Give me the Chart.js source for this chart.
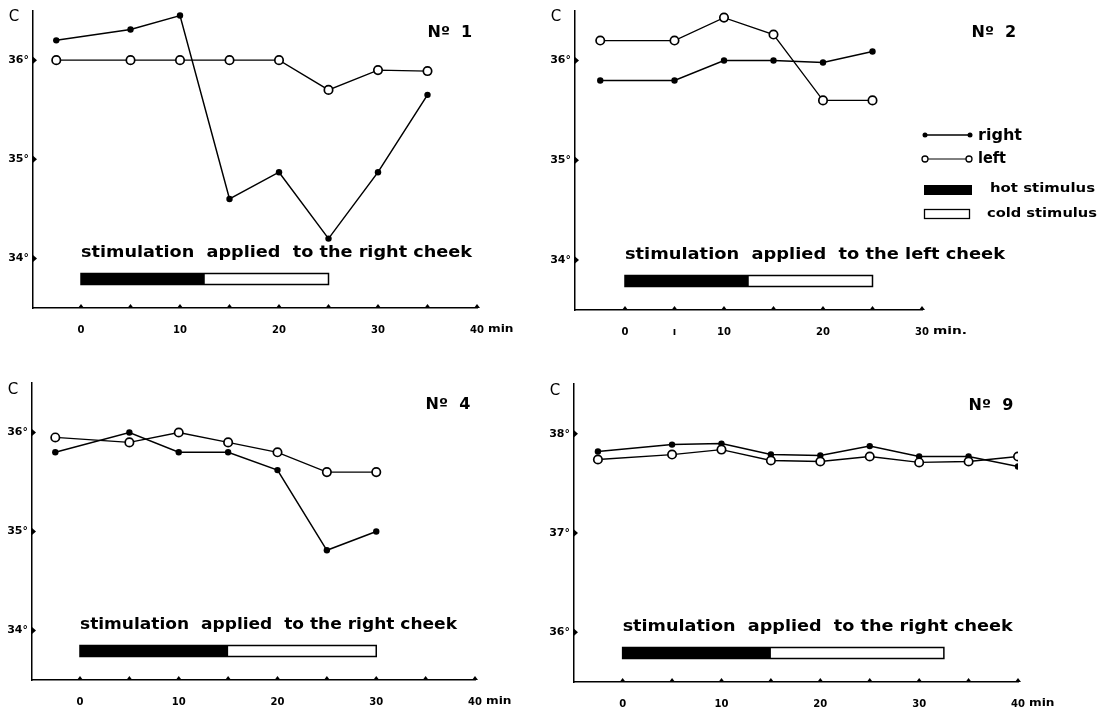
<!DOCTYPE html>
<html>
<head>
<meta charset="utf-8">
<script src="https://cdn.jsdelivr.net/npm/chart.js@4.4.1/dist/chart.umd.min.js"></script>
<style>
    html, body { margin: 0; padding: 0; background: #fff; }
    #wrap { position: relative; width: 1103px; height: 712px; }
    #wrap canvas { position: absolute; left: 0; top: 0; }
</style>
</head>
<body>
<div id="wrap">
    <canvas id="c1" width="1103" height="712"></canvas>
    <canvas id="c2" width="1103" height="712"></canvas>
    <canvas id="c4" width="1103" height="712"></canvas>
    <canvas id="c9" width="1103" height="712"></canvas>
</div>
<script>
        // ---- No 1 ----
        const times1 = [-2.5, 5, 10, 15, 20, 25, 30, 35];
        const right1 = [36.2, 36.31, 36.45, 34.6, 34.87, 34.2, 34.87, 35.65];
        const left1 = [36.0, 36.0, 36.0, 36.0, 36.0, 35.7, 35.9, 35.89];
        const xRange1 = [-4.85, 40];
        const yRange1 = [33.5, 36.5];
        const xTicks1 = [0, 10, 20, 30, 40];
        const xLabels1 = ['0', '10', '20', '30', '40'];
        const yTicks1 = [34, 35, 36];
        const yLabels1 = ['34°', '35°', '36°'];
        const stim1 = [0, 12.5, 25];

        // ---- No 2 ----
        const times2 = [-2.5, 5, 10, 15, 20, 25];
        const right2 = [35.8, 35.8, 36.0, 36.0, 35.98, 36.09];
        const left2 = [36.2, 36.2, 36.43, 36.26, 35.6, 35.6];
        const xRange2 = [-5.05, 30];
        const yRange2 = [33.5, 36.5];
        const xTicks2 = [0, 5, 10, 20, 30];
        const xLabels2 = ['0', 'ı', '10', '20', '30'];
        const yTicks2 = [34, 35, 36];
        const yLabels2 = ['34°', '35°', '36°'];
        const stim2 = [0, 12.5, 25];

        // ---- No 4 ----
        const times4 = [-2.5, 5, 10, 15, 20, 25, 30];
        const right4 = [35.8, 36.0, 35.8, 35.8, 35.62, 34.81, 35.0];
        const left4 = [35.95, 35.9, 36.0, 35.9, 35.8, 35.6, 35.6];
        const xRange4 = [-4.86, 40];
        const yRange4 = [33.5, 36.5];
        const xTicks4 = [0, 10, 20, 30, 40];
        const xLabels4 = ['0', '10', '20', '30', '40'];
        const yTicks4 = [34, 35, 36];
        const yLabels4 = ['34°', '35°', '36°'];
        const stim4 = [0, 15, 30];

        // ---- No 9 ----
        const times9 = [-2.5, 5, 10, 15, 20, 25, 30, 35, 40];
        const right9 = [37.82, 37.89, 37.9, 37.79, 37.78, 37.875, 37.77, 37.77, 37.67];
        const left9 = [37.74, 37.79, 37.84, 37.73, 37.72, 37.77, 37.71, 37.72, 37.77];
        const xRange9 = [-4.92, 40];
        const yRange9 = [35.5, 38.5];
        const xTicks9 = [0, 10, 20, 30, 40];
        const xLabels9 = ['0', '10', '20', '30', '40'];
        const yTicks9 = [36, 37, 38];
        const yLabels9 = ['36°', '37°', '38°'];
        const stim9 = [0, 15, 32.5];

        const xMarks = [0, 5, 10, 15, 20, 25, 30, 35, 40];
        const FONT = '"DejaVu Sans", sans-serif';

        const panels = [
            { id: 'c1', area: [33, 10, 477, 308], xRange: xRange1, yRange: yRange1, times: times1, right: right1, left: left1,
              xTicks: xTicks1, xLabels: xLabels1, yTicks: yTicks1, yLabels: yLabels1, stim: stim1, unit: 'min',
              title: 'Nº  1', note: 'stimulation  applied  to the right cheek', noteWidth: 391 },
            { id: 'c2', area: [575, 10, 922, 310], xRange: xRange2, yRange: yRange2, times: times2, right: right2, left: left2,
              xTicks: xTicks2, xLabels: xLabels2, yTicks: yTicks2, yLabels: yLabels2, stim: stim2, unit: 'min.',
              title: 'Nº  2', note: 'stimulation  applied  to the left cheek', noteWidth: 380, legend: true },
            { id: 'c4', area: [32, 383, 475, 680], xRange: xRange4, yRange: yRange4, times: times4, right: right4, left: left4,
              xTicks: xTicks4, xLabels: xLabels4, yTicks: yTicks4, yLabels: yLabels4, stim: stim4, unit: 'min',
              title: 'Nº  4', note: 'stimulation  applied  to the right cheek', noteWidth: 377 },
            { id: 'c9', area: [574, 384, 1018, 682], xRange: xRange9, yRange: yRange9, times: times9, right: right9, left: left9,
              xTicks: xTicks9, xLabels: xLabels9, yTicks: yTicks9, yLabels: yLabels9, stim: stim9, unit: 'min',
              title: 'Nº  9', note: 'stimulation  applied  to the right cheek', noteWidth: 390 }
        ];

        // hand lettering is wider than the font, so stretch text to a width
        function stretchText(ctx, text, x, y, width) {
            const w = ctx.measureText(text).width;
            ctx.save();
            ctx.translate(x, y);
            ctx.scale(width / w, 1);
            ctx.fillText(text, 0, 0);
            ctx.restore();
        }

        function drawLegend(ctx) {
            ctx.lineWidth = 1.5;
            // right
            ctx.beginPath(); ctx.moveTo(925, 135); ctx.lineTo(970, 135); ctx.stroke();
            [925, 970].forEach(x => { ctx.beginPath(); ctx.arc(x, 135, 2.5, 0, Math.PI * 2); ctx.fill(); });
            // left
            ctx.lineWidth = 1;
            ctx.beginPath(); ctx.moveTo(928, 159); ctx.lineTo(966, 159); ctx.stroke();
            [925, 969].forEach(x => {
                ctx.beginPath(); ctx.arc(x, 159, 3, 0, Math.PI * 2);
                ctx.fillStyle = '#fff'; ctx.fill(); ctx.lineWidth = 1.3; ctx.stroke();
            });
            ctx.fillStyle = '#000';
            ctx.fillRect(924, 185, 48, 10);
            ctx.lineWidth = 1.3;
            ctx.strokeRect(924.5, 209.5, 45, 9);

            ctx.textAlign = 'left';
            ctx.textBaseline = 'middle';
            ctx.font = 'bold 15px ' + FONT;
            stretchText(ctx, 'right', 978, 136, 44);
            stretchText(ctx, 'left', 978, 159, 28);
            ctx.font = 'bold 13px ' + FONT;
            stretchText(ctx, 'hot stimulus', 990, 189, 105);
            stretchText(ctx, 'cold stimulus', 987, 214, 110);
        }

        function decorPlugin(p) {
            return {
                id: 'decor',
                afterDraw(chart) {
                    const ctx = chart.ctx;
                    const xs = chart.scales.x;
                    const ys = chart.scales.y;
                    const a = chart.chartArea;
                    ctx.save();
                    ctx.fillStyle = '#000';
                    ctx.strokeStyle = '#000';

                    // little marks on the axes
                    p.yTicks.forEach(v => {
                        const y = ys.getPixelForValue(v);
                        ctx.beginPath();
                        ctx.moveTo(a.left, y - 3.5); ctx.lineTo(a.left + 4, y); ctx.lineTo(a.left, y + 3.5);
                        ctx.fill();
                    });
                    xMarks.filter(v => v <= p.xRange[1]).forEach(v => {
                        const x = xs.getPixelForValue(v);
                        ctx.beginPath();
                        ctx.moveTo(x - 3, a.bottom); ctx.lineTo(x, a.bottom - 4); ctx.lineTo(x + 3, a.bottom);
                        ctx.fill();
                    });

                    // unit after the last x label
                    ctx.font = 'bold 10px ' + FONT;
                    ctx.textAlign = 'left';
                    ctx.textBaseline = 'top';
                    stretchText(ctx, p.unit, xs.getPixelForValue(p.xTicks[p.xTicks.length - 1]) + 11, a.bottom + 16,
                        p.unit.length * 8.5);

                    // "C" unit on the y axis
                    ctx.font = '15px ' + FONT;
                    ctx.textAlign = 'center';
                    ctx.textBaseline = 'middle';
                    ctx.fillText('C', a.left - 19, a.top + 7);

                    // panel number
                    ctx.font = 'bold 16px ' + FONT;
                    ctx.textAlign = 'left';
                    ctx.fillText(p.title, xs.getPixelForValue(35), a.top + 22);

                    // stimulation note and bar
                    const x0 = xs.getPixelForValue(p.stim[0]);
                    const x1 = xs.getPixelForValue(p.stim[1]);
                    const x2 = xs.getPixelForValue(p.stim[2]);
                    ctx.font = 'bold 16px ' + FONT;
                    stretchText(ctx, p.note, x0, a.bottom - 55, p.noteWidth);

                    const yb = a.bottom - 34.5;
                    ctx.fillStyle = '#fff';
                    ctx.fillRect(x1, yb, x2 - x1, 11);
                    ctx.lineWidth = 1.5;
                    ctx.strokeRect(x0, yb, x2 - x0, 11);
                    ctx.fillStyle = '#000';
                    ctx.fillRect(x0, yb, x1 - x0, 11);

                    if (p.legend) drawLegend(ctx);
                    ctx.restore();
                }
            };
        }

        function makeChart(p) {
            const [L, T, R, B] = p.area;
            const toPoints = vals => p.times.map((t, i) => ({ x: t, y: vals[i] }));
            return new Chart(document.getElementById(p.id), {
                type: 'line',
                data: {
                    datasets: [{
                        label: 'left',
                        data: toPoints(p.left),
                        borderColor: '#000',
                        borderWidth: 1.3,
                        pointRadius: 4.2,
                        pointBackgroundColor: '#fff',
                        pointBorderColor: '#000',
                        pointBorderWidth: 1.7,
                        tension: 0
                    }, {
                        label: 'right',
                        data: toPoints(p.right),
                        borderColor: '#000',
                        borderWidth: 1.5,
                        pointRadius: 3.2,
                        pointBackgroundColor: '#000',
                        pointBorderWidth: 0,
                        tension: 0
                    }]
                },
                options: {
                    responsive: false,
                    animation: false,
                    events: [],
                    layout: { padding: { left: L - 30, top: T, right: 1103 - R, bottom: 712 - B - 40 } },
                    plugins: { legend: { display: false }, tooltip: { enabled: false } },
                    scales: {
                        x: {
                            type: 'linear',
                            min: p.xRange[0],
                            max: p.xRange[1],
                            afterFit: s => { s.height = 40; },
                            afterBuildTicks: s => { s.ticks = p.xTicks.map(v => ({ value: v })); },
                            ticks: {
                                autoSkip: false,
                                maxRotation: 0,
                                padding: 16,
                                color: '#000',
                                font: { family: FONT, size: 10, weight: 'bold' },
                                callback: (v, i) => p.xLabels[i]
                            },
                            grid: { display: false, drawTicks: false },
                            border: { display: true, color: '#000', width: 1.5 }
                        },
                        y: {
                            type: 'linear',
                            min: p.yRange[0],
                            max: p.yRange[1],
                            afterFit: s => { s.width = 30; },
                            afterBuildTicks: s => { s.ticks = p.yTicks.map(v => ({ value: v })); },
                            ticks: {
                                autoSkip: false,
                                padding: 4,
                                color: '#000',
                                font: { family: FONT, size: 11, weight: 'bold' },
                                callback: (v, i) => p.yLabels[i]
                            },
                            grid: { display: false, drawTicks: false },
                            border: { display: true, color: '#000', width: 1.5 }
                        }
                    }
                },
                plugins: [decorPlugin(p)]
            });
        }

        panels.forEach(makeChart);
</script>
</body>
</html>
